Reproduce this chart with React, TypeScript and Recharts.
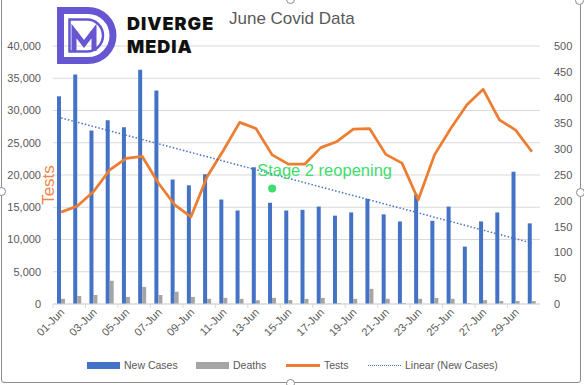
import React from 'react';
import { ComposedChart, Bar, Line, XAxis, YAxis, CartesianGrid, ReferenceDot } from 'recharts';

const days = [
  '01-Jun', '02-Jun', '03-Jun', '04-Jun', '05-Jun', '06-Jun', '07-Jun', '08-Jun', '09-Jun', '10-Jun',
  '11-Jun', '12-Jun', '13-Jun', '14-Jun', '15-Jun', '16-Jun', '17-Jun', '18-Jun', '19-Jun', '20-Jun',
  '21-Jun', '22-Jun', '23-Jun', '24-Jun', '25-Jun', '26-Jun', '27-Jun', '28-Jun', '29-Jun', '30-Jun',
];
const newCases = [
  32200, 35600, 26900, 28500, 27400, 36300, 33100, 19300, 18400, 20100,
  16200, 14500, 21200, 15700, 14500, 14600, 15100, 13700, 14200, 16300,
  13900, 12800, 17000, 12900, 15100, 8900, 12800, 14200, 20500, 12500,
];
const deaths = [
  800, 1250, 1400, 3600, 1100, 2650, 1400, 1900, 1100, 800,
  950, 800, 600, 950, 600, 800, 950, 150, 800, 2350,
  800, 150, 800, 950, 800, 150, 600, 450, 450, 450,
];
const tests = [
  178, 190, 218, 260, 282, 286, 234, 192, 169, 247,
  298, 352, 340, 289, 271, 271, 303, 315, 339, 340,
  290, 273, 202, 289, 340, 386, 416, 357, 337, 295,
];
const leftTicks = [0, 5000, 10000, 15000, 20000, 25000, 30000, 35000, 40000];
const rightTicks = [0, 50, 100, 150, 200, 250, 300, 350, 400, 450, 500];
const stageDay = '14-Jun';
const stageValue = 17900;
const stageLabel = 'Stage 2 reopening';

// Excel-style linear trendline over new cases
const n = newCases.length;
const meanX = (n + 1) / 2;
const meanY = newCases.reduce((s, v) => s + v, 0) / n;
let sxy = 0;
let sxx = 0;
newCases.forEach((v, i) => {
  sxy += (i + 1 - meanX) * (v - meanY);
  sxx += (i + 1 - meanX) * (i + 1 - meanX);
});
const slope = sxy / sxx;

const data = days.map((d, i) => ({
  day: d,
  newCases: newCases[i],
  deaths: deaths[i],
  tests: tests[i],
  trend: meanY + slope * (i + 1 - meanX),
}));

const grey = '#595959';
const font = '"Liberation Sans", Arial, sans-serif';
const band = 487 / 30;

const XTick = (props: any) => {
  const { x, y, payload } = props;
  return (
    <g>
      <line x1={x - band / 2} x2={x - band / 2} y1={y} y2={y + 4} stroke="#d9d9d9" />
      <g transform={`translate(${x + 4},${y + 9})`}>
        <text transform="rotate(-45)" textAnchor="end" fill={grey} fontSize={11} fontFamily={font}>
          {payload.value}
        </text>
      </g>
    </g>
  );
};

const StageMark = (props: any) => {
  const { cx, cy } = props;
  return (
    <g>
      <circle cx={cx} cy={cy} r={4} fill="#3fdc6e" />
      <text x={cx - 15} y={cy - 13} fill="#3fdc6e" fontSize={16.5} fontFamily={font}>
        {stageLabel}
      </text>
    </g>
  );
};

const legendItems = [
  { label: 'New Cases', left: 87, kind: 'bar', color: '#4472C4' },
  { label: 'Deaths', left: 196, kind: 'bar', color: '#A5A5A5' },
  { label: 'Tests', left: 286, kind: 'line', color: '#ED7D31' },
  { label: 'Linear (New Cases)', left: 368, kind: 'dot', color: '#4472C4' },
];

const handles = [
  [290, -1], [579, 0], [1, 191], [580, 192], [290, 383],
];

export default function App() {
  return (
    <div style={{ position: 'absolute', left: 0, top: 0, width: 584, height: 385, background: '#fff', overflow: 'hidden' }}>
      <ComposedChart
        width={584}
        height={385}
        data={data}
        margin={{ top: 46, right: 0, bottom: 31, left: 0 }}
        barGap={0}
      >
        <CartesianGrid yAxisId="left" vertical={false} stroke="#d9d9d9" />
        <XAxis
          dataKey="day"
          interval={1}
          height={50}
          tickSize={0}
          tickMargin={0}
          tickLine={false}
          axisLine={{ stroke: '#d9d9d9' }}
          tick={<XTick />}
        />
        <YAxis
          yAxisId="left"
          width={53}
          domain={[0, 40000]}
          ticks={leftTicks}
          axisLine={false}
          tickLine={false}
          tickMargin={6}
          tickFormatter={(v: number) => v.toLocaleString('en-US')}
          tick={{ fill: grey, fontSize: 11, fontFamily: font }}
        />
        <YAxis
          yAxisId="right"
          orientation="right"
          width={44}
          domain={[0, 500]}
          ticks={rightTicks}
          axisLine={false}
          tickLine={false}
          tickMargin={8}
          tick={{ fill: grey, fontSize: 11, fontFamily: font, textAnchor: 'start' }}
        />
        <Bar yAxisId="left" dataKey="newCases" fill="#4472C4" barSize={4} isAnimationActive={false} />
        <Bar yAxisId="left" dataKey="deaths" fill="#A5A5A5" barSize={4} isAnimationActive={false} />
        <Line
          yAxisId="right"
          dataKey="tests"
          type="linear"
          stroke="#ED7D31"
          strokeWidth={2.75}
          strokeLinejoin="round"
          dot={false}
          isAnimationActive={false}
        />
        <Line
          yAxisId="left"
          dataKey="trend"
          type="linear"
          stroke="#4472C4"
          strokeWidth={1.5}
          strokeDasharray="1.5 2"
          dot={false}
          isAnimationActive={false}
        />
        <ReferenceDot yAxisId="left" x={stageDay} y={stageValue} r={4} shape={<StageMark />} />
      </ComposedChart>

      {/* axis title */}
      <div
        style={{
          position: 'absolute', left: 49, top: 185, transform: 'translate(-50%, -50%) rotate(-90deg)',
          color: '#F0874A', fontFamily: font, fontSize: 17, whiteSpace: 'nowrap',
        }}
      >
        Tests
      </div>

      {/* logo */}
      <svg style={{ position: 'absolute', left: 57, top: 7 }} width={62} height={57}>
        <path d="M3.5 3.5 H31 A25 25 0 0 1 31 53.5 H3.5 Z" fill="none" stroke="#6656D2" strokeWidth={7} />
        <path d="M12.5 12.5 H30 A16 16 0 0 1 30 44.5 H12.5 Z" fill="none" stroke="#6656D2" strokeWidth={2.5} />
        <path d="M17 44 V24 L27 37 L37 24 V44" fill="none" stroke="#6656D2" strokeWidth={5} strokeLinejoin="miter" />
      </svg>
      <div
        style={{
          position: 'absolute', left: 127, top: 12, fontFamily: 'Inter, sans-serif', fontWeight: 900,
          fontSize: 18, lineHeight: '23px', color: '#111', letterSpacing: 1,
        }}
      >
        DIVERGE
        <br />
        MEDIA
      </div>
      <div style={{ position: 'absolute', left: 229, top: 9, fontFamily: font, fontSize: 17, color: grey }}>
        June Covid Data
      </div>

      {/* legend */}
      {legendItems.map((it) => (
        <div
          key={it.label}
          style={{ position: 'absolute', left: it.left, top: 358, display: 'flex', alignItems: 'center', height: 14 }}
        >
          {it.kind === 'bar' && <div style={{ width: 33, height: 7, background: it.color }} />}
          {it.kind === 'line' && <div style={{ width: 34, height: 3, background: it.color }} />}
          {it.kind === 'dot' && <div style={{ width: 33, height: 0, borderTop: `1.5px dotted ${it.color}` }} />}
          <span style={{ marginLeft: 4, fontFamily: font, fontSize: 10.5, color: grey, whiteSpace: 'nowrap' }}>
            {it.label}
          </span>
        </div>
      ))}

      {/* frame with selection handles */}
      <div
        style={{
          position: 'absolute', left: 1, top: -3, width: 578, height: 384,
          border: '1px solid #8c8c8c', borderRadius: 3, pointerEvents: 'none',
        }}
      />
      {handles.map(([hx, hy], i) => (
        <div
          key={i}
          style={{
            position: 'absolute', left: hx - 4, top: hy - 4, width: 7, height: 7, borderRadius: '50%',
            border: '1px solid #8c8c8c', background: '#fff',
          }}
        />
      ))}
    </div>
  );
}
